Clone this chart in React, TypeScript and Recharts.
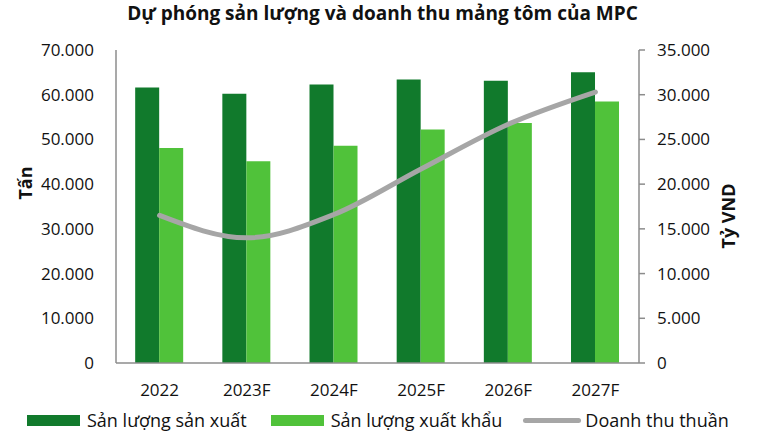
import { Bar, ComposedChart, Legend, Line, XAxis, YAxis, Label } from "recharts";

const nam = ["2022", "2023F", "2024F", "2025F", "2026F", "2027F"];
const sanLuongSanXuat = [61600, 60200, 62300, 63400, 63100, 65000];
const sanLuongXuatKhau = [48100, 45100, 48600, 52200, 53700, 58500];
const doanhThuThuan = [16500, 14000, 16600, 21700, 26700, 30300];
const ticksTan = [0, 10000, 20000, 30000, 40000, 50000, 60000, 70000];
const ticksTy = [0, 5000, 10000, 15000, 20000, 25000, 30000, 35000];

const dados = nam.map((n, i) => ({
  nam: n,
  sx: sanLuongSanXuat[i],
  xk: sanLuongXuatKhau[i],
  dt: doanhThuThuan[i],
}));

const FONT = "'Open Sans', sans-serif";
const fmt = (v: number) => v.toLocaleString("de-DE");

const mucLegend = [
  { ten: "Sản lượng sản xuất", mau: "#117A2C", kieu: "rect", sau: 24 },
  { ten: "Sản lượng xuất khẩu", mau: "#50C23A", kieu: "rect", sau: 21 },
  { ten: "Doanh thu thuần", mau: "#A6A6A6", kieu: "line", sau: 0 },
];

function ChuGiai() {
  return (
    <div style={{ display: "flex", height: 30, alignItems: "center", paddingLeft: 27, fontFamily: FONT, fontSize: 18, color: "#111", whiteSpace: "nowrap" }}>
      {mucLegend.map((m) => (
        <div key={m.ten} style={{ display: "flex", alignItems: "center", flexShrink: 0, marginRight: m.sau }}>
          {m.kieu === "rect" ? (
            <span style={{ width: 53, height: 11, background: m.mau, marginRight: 7, flexShrink: 0 }} />
          ) : (
            <span style={{ width: 58, height: 5, borderRadius: 3, background: m.mau, marginRight: 4, flexShrink: 0 }} />
          )}
          <span>{m.ten}</span>
        </div>
      ))}
    </div>
  );
}

const nhanStyle = { fontSize: 18, fontWeight: 700, fontFamily: FONT, fill: "#111" };

export default function App() {
  return (
    <div style={{ position: "absolute", left: 0, top: 0, width: 765, height: 440, background: "#fff" }}>
      <div style={{ position: "absolute", top: 0, width: 765, textAlign: "center", fontFamily: FONT, fontWeight: 700, fontSize: 19, color: "#111" }}>
        Dự phóng sản lượng và doanh thu mảng tôm của MPC
      </div>
      <ComposedChart width={765} height={440} data={dados} margin={{ top: 50, right: 0, left: 0, bottom: 5 }} barCategoryGap="22%" barGap={0}>
        <XAxis dataKey="nam" height={42} tickLine={false} axisLine={{ stroke: "#8C8C8C", strokeWidth: 1.5 }} tickMargin={15} tick={{ fontSize: 17, fontFamily: FONT, fill: "#111" }} />
        <YAxis yAxisId="trai" width={116} domain={[0, 70000]} ticks={ticksTan} tickFormatter={fmt} tickLine={false} tickMargin={16} axisLine={{ stroke: "#8C8C8C", strokeWidth: 1.5 }} tick={{ fontSize: 17, fontFamily: FONT, fill: "#111" }}>
          <Label
            content={() => (
              <text x={25} y={183} transform="rotate(-90 25 183)" textAnchor="middle" dominantBaseline="central" style={nhanStyle}>
                Tấn
              </text>
            )}
          />
        </YAxis>
        <YAxis yAxisId="phai" orientation="right" width={126} domain={[0, 35000]} ticks={ticksTy} tickFormatter={fmt} tickMargin={12} tickLine={{ stroke: "#8C8C8C", strokeWidth: 1.5 }} axisLine={{ stroke: "#8C8C8C", strokeWidth: 1.5 }} tick={{ fontSize: 17, fontFamily: FONT, fill: "#111" }}>
          <Label
            content={() => (
              <text x={728} y={216} transform="rotate(-90 728 216)" textAnchor="middle" dominantBaseline="central" style={nhanStyle}>
                Tỷ VND
              </text>
            )}
          />
        </YAxis>
        <Bar yAxisId="trai" dataKey="sx" name="Sản lượng sản xuất" fill="#117A2C" isAnimationActive={false} />
        <Bar yAxisId="trai" dataKey="xk" name="Sản lượng xuất khẩu" fill="#50C23A" isAnimationActive={false} />
        <Line yAxisId="phai" type="monotone" dataKey="dt" name="Doanh thu thuần" stroke="#A6A6A6" strokeWidth={5} dot={false} strokeLinecap="round" isAnimationActive={false} />
        <Legend verticalAlign="bottom" content={<ChuGiai />} />
      </ComposedChart>
    </div>
  );
}
